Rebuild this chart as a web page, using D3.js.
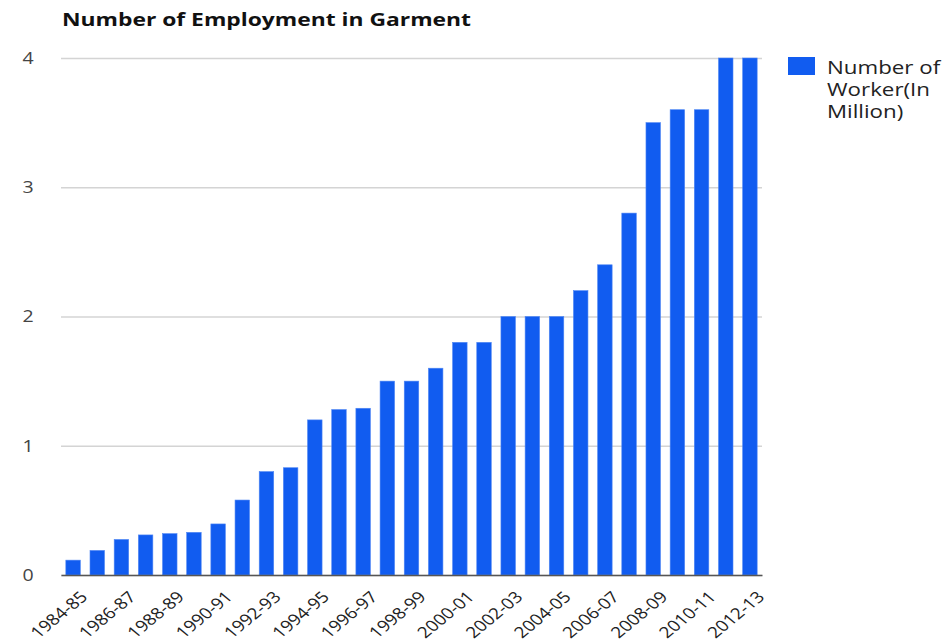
<!DOCTYPE html>
<html>
<head>
<meta charset="utf-8">
<script src="https://cdn.jsdelivr.net/npm/d3@7"></script>
<style>
  body { margin: 0; background: #fff; }
  text { font-family: "Open Sans", "DejaVu Sans", sans-serif; }
</style>
</head>
<body>
<svg id="chart" width="945" height="641"></svg>
<script>
// data
const years = ['1984-85','1985-86','1986-87','1987-88','1988-89','1989-90','1990-91','1991-92',
  '1992-93','1993-94','1994-95','1995-96','1996-97','1997-98','1998-99','1999-00','2000-01',
  '2001-02','2002-03','2003-04','2004-05','2005-06','2006-07','2007-08','2008-09','2009-10',
  '2010-11','2011-12','2012-13'];
const workers = [0.115, 0.19, 0.275, 0.31, 0.32, 0.33, 0.395, 0.58, 0.8, 0.83, 1.2, 1.28, 1.29,
  1.5, 1.5, 1.6, 1.8, 1.8, 2.0, 2.0, 2.0, 2.2, 2.4, 2.8, 3.5, 3.6, 3.6, 4.0, 4.0];
const yTicks = [0, 1, 2, 3, 4];
const legendLines = ['Number of', 'Worker(In', 'Million)'];
const title = 'Number of Employment in Garment';

const svg = d3.select('#chart');
const m = {left: 61, right: 945 - 762, top: 58, bottom: 641 - 575};
const w = 945 - m.left - m.right, h = 641 - m.top - m.bottom;

/*比例尺*/
const x = d3.scaleBand().domain(years).range([0, w]).paddingInner(0.4).paddingOuter(0.2);
const y = d3.scaleLinear().domain([0, 4]).range([h, 0]);

const g = svg.append('g').attr('transform', `translate(${m.left},${m.top})`);

// gridlines + y labels
const yAxis = g.append('g')
  .call(d3.axisLeft(y).tickValues(yTicks).tickSize(-w).tickFormat(d3.format('d')));
yAxis.select('.domain').remove();
yAxis.selectAll('.tick line').attr('stroke', '#d4d4d4').attr('stroke-width', 1.3);
yAxis.selectAll('.tick text').attr('fill', '#444').style('font-size', '17px')
  .attr('text-anchor', 'middle').attr('x', 0)
  .attr('transform', 'translate(-33,0) scale(1.15,1)');

// bars
g.selectAll('rect.bar')
  .data(workers)
  .enter()
  .append('rect')
  .attr('class', 'bar')
  .attr('x', (d, i) => x(years[i]))
  .attr('y', d => y(d))
  .attr('width', x.bandwidth())
  .attr('height', d => h - y(d))
  .attr('fill', '#115cf0')
  .attr('stroke', '#4f86f4')
  .attr('stroke-width', 0.6);

// x axis
const xAxis = g.append('g').attr('transform', `translate(0,${h})`)
  .call(d3.axisBottom(x).tickValues(years.filter((d, i) => i % 2 === 0)).tickSize(0).tickPadding(0));
xAxis.select('.domain').attr('stroke', '#555').attr('stroke-width', 1.5);
xAxis.selectAll('.tick text')
  .attr('fill', '#222')
  .style('font-size', '15.5px')
  .attr('text-anchor', 'end')
  .attr('y', 0)
  .attr('dy', '0.72em')
  .attr('transform', 'translate(6,15) scale(1.22,1) rotate(-45)');

// title
svg.append('text')
  .attr('x', 62).attr('y', 26)
  .attr('fill', '#111')
  .attr('textLength', 409)
  .attr('lengthAdjust', 'spacingAndGlyphs')
  .style('font-size', '17.5px')
  .style('font-weight', 'bold')
  .text(title);

// legend
const lg = svg.append('g').attr('transform', 'translate(788,57)');
lg.append('rect').attr('width', 27).attr('height', 18).attr('fill', '#115cf0');
lg.append('g').attr('transform', 'translate(39,0) scale(1.24,1)')
  .selectAll('text')
  .data(legendLines)
  .enter()
  .append('text')
  .attr('x', 0)
  .attr('y', (d, i) => 17 + i * 22)
  .attr('fill', '#222')
  .style('font-size', '18px')
  .text(d => d);
</script>
</body>
</html>
